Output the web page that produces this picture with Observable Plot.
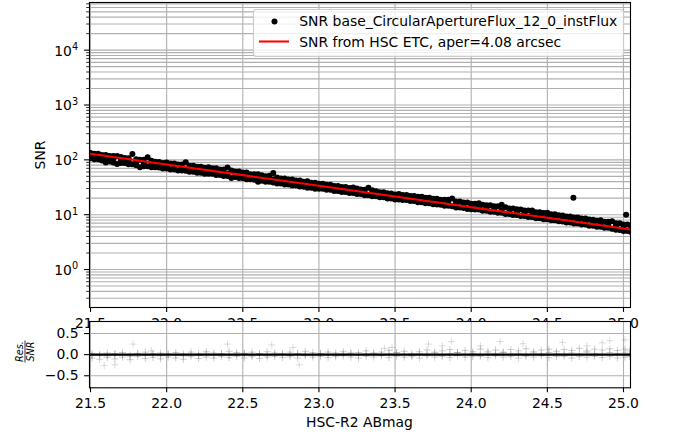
<!DOCTYPE html>
<html><head><meta charset="utf-8">
<script src="https://cdn.jsdelivr.net/npm/d3@7"></script>
<script src="https://cdn.jsdelivr.net/npm/@observablehq/plot@0.6"></script>
<style>
html,body{margin:0;padding:0;background:#fff;}
#chart{position:relative;width:700px;height:442px;overflow:hidden;font-family:"DejaVu Sans",sans-serif;}
#chart svg{position:absolute;left:0;}
</style></head><body><div id="chart"></div>
<script>
// ---------- data ----------
const xTicks = [21.5, 22.0, 22.5, 23.0, 23.5, 24.0, 24.5, 25.0];
const yMajor = [1, 10, 100, 1000, 10000];
const yMinor = [0.3,0.4,0.5,0.6,0.7,0.8,0.9, 2,3,4,5,6,7,8,9, 20,30,40,50,60,70,80,90,
  200,300,400,500,600,700,800,900, 2000,3000,4000,5000,6000,7000,8000,9000,
  20000,30000,40000,50000,60000,70000];
const resTicks = [-0.5, 0.0, 0.5];

// measured SNR band (upper and lower edge of the dense point cloud)
const bandMag = [
 21.500,21.525,21.550,21.575, 21.600,21.625,21.650,21.675, 21.700,21.725,21.750,21.775, 21.800,21.825,21.850,21.875,
 21.900,21.925,21.950,21.975, 22.000,22.025,22.050,22.075, 22.100,22.125,22.150,22.175, 22.200,22.225,22.250,22.275,
 22.300,22.325,22.350,22.375, 22.400,22.425,22.450,22.475, 22.500,22.525,22.550,22.575, 22.600,22.625,22.650,22.675,
 22.700,22.725,22.750,22.775, 22.800,22.825,22.850,22.875, 22.900,22.925,22.950,22.975, 23.000,23.025,23.050,23.075,
 23.100,23.125,23.150,23.175, 23.200,23.225,23.250,23.275, 23.300,23.325,23.350,23.375, 23.400,23.425,23.450,23.475,
 23.500,23.525,23.550,23.575, 23.600,23.625,23.650,23.675, 23.700,23.725,23.750,23.775, 23.800,23.825,23.850,23.875,
 23.900,23.925,23.950,23.975, 24.000,24.025,24.050,24.075, 24.100,24.125,24.150,24.175, 24.200,24.225,24.250,24.275,
 24.300,24.325,24.350,24.375, 24.400,24.425,24.450,24.475, 24.500,24.525,24.550,24.575, 24.600,24.625,24.650,24.675,
 24.700,24.725,24.750,24.775, 24.800,24.825,24.850,24.875, 24.900,24.925,24.950,24.975, 25.000,25.025,25.050];
const bandUpper = [
 134,128.5,128.5,122.9, 122.9,117.6,117.4,117.4, 112.3,107.5,107.4,128, 102.7,100.4,100.3,111.3,
 96.0,91.9,91.8,87.9, 89.7,85.8,85.7,82.1, 81.9,90.8,78.3,78.2, 75.0,74.9,71.7,73.1,
 70.0,69.9,66.9,66.9, 72.6,63.9,61.2,61.2, 58.5,58.5,54.8,54.8, 54.7,52.3,50.2,51.2,
 57.8,47.8,45.8,45.7, 43.8,43.8,41.9,41.9, 40.0,40.9,38.3,38.2, 36.7,36.7,35.0,35.0,
 33.5,33.4,32.1,32.0, 30.7,31.3,30.0,28.7, 28.6,31.0,27.9,26.7, 25.6,25.6,24.5,24.4,
 23.4,23.8,22.9,22.8, 21.9,21.9,21.3,21.3, 20.4,20.4,19.5,19.5, 18.7,18.7,18.7,19.8,
 17.4,17.4,16.7,16.7, 15.9,15.9,16.2,15.2, 14.9,14.9,14.2,14.2, 15.1,13.6,13.0,13.0,
 12.5,12.4,11.9,11.9, 11.9,11.1,11.1,10.7, 10.9,10.2,10.2,9.74, 9.71,9.31,9.29,8.90,
 8.88,8.51,8.49,8.13, 8.12,7.78,7.93,7.44, 7.43,7.57,6.96,6.95, 6.65,6.64,6.36];
const bandLower = [
 106.6,102.0,102.0,97.5, 89.6,93.3,89.4,83.9, 87.2,87.2,83.4,83.4, 79.8,73.3,76.3,76.3,
 73.0,72.9,72.8,69.8, 69.6,66.7,66.6,63.8, 63.6,63.5,60.8,60.8, 58.2,58.2,55.7,55.6,
 55.5,53.2,53.0,50.8, 50.7,46.6,48.5,46.5, 46.4,44.4,44.4,43.4, 39.9,41.5,39.8,39.7,
 38.8,37.1,37.1,35.5, 35.5,34.0,33.9,32.5, 32.4,31.1,31.0,29.7, 29.7,29.7,28.4,28.4,
 27.1,27.1,26.0,25.9, 24.8,24.8,23.8,23.8, 22.6,22.6,21.7,21.6, 20.7,20.7,19.8,19.8,
 18.9,18.9,18.5,18.5, 17.7,17.7,16.9,16.9, 16.2,16.2,15.5,15.4, 15.2,14.5,14.5,14.2,
 13.5,13.5,13.2,12.7, 12.6,12.4,12.4,11.8, 11.8,11.3,11.3,10.8, 10.8,10.3,10.3,9.88,
 9.88,9.46,9.45,9.04, 9.03,8.65,8.64,8.27, 8.26,7.91,7.90,7.56, 7.55,7.22,7.22,6.91,
 6.90,6.61,6.60,6.31, 6.31,6.04,6.04,5.77, 5.77,5.52,5.29,5.28, 5.06,5.05,4.83];
// middle of the point cloud
const midMag = [
 21.50,21.55,21.60,21.65,21.70,21.75,21.80,21.85,21.90,21.95,
 22.00,22.05,22.10,22.15,22.20,22.25,22.30,22.35,22.40,22.45,
 22.50,22.55,22.60,22.65,22.70,22.75,22.80,22.85,22.90,22.95,
 23.00,23.05,23.10,23.15,23.20,23.25,23.30,23.35,23.40,23.45,
 23.50,23.55,23.60,23.65,23.70,23.75,23.80,23.85,23.90,23.95,
 24.00,24.05,24.10,24.15,24.20,24.25,24.30,24.35,24.40,24.45,
 24.50,24.55,24.60,24.65,24.70,24.75,24.80,24.85,24.90,24.95,
 25.00,25.05];
const bandMid = [
 118.4,113.2,108.3,103.5,99.0,94.7,90.5,86.6,82.8,79.2,
 75.7,72.4,69.2,66.2,63.3,60.6,60.5,57.8,55.3,52.9,
 52.7,50.4,48.2,46.1,44.0,42.1,40.3,38.5,36.8,35.2,
 33.7,32.2,30.8,29.5,28.2,27.0,25.7,24.6,23.5,22.5,
 21.5,20.6,19.7,18.8,18.8,17.9,17.2,16.5,15.6,15.0,
 14.35,13.73,13.12,12.55,11.99,11.47,10.97,10.49,10.03,9.60,
 9.18,8.77,8.39,8.02,7.67,7.33,7.01,6.71,6.41,6.13,
 5.86,5.60];
const outMag = [24.671, 25.017];
const outSnr = [20.3, 9.96];

// HSC ETC prediction
const etcMag = [21.5, 22.0, 22.5, 23.0, 23.5, 24.0, 24.5, 25.0, 25.05];
const etcSnr = [128.8, 82.3, 52.6, 33.6, 21.5, 13.7, 8.77, 5.60, 5.36];

// residuals
const resMag = [
 21.51,21.56,21.61,21.66,21.71,21.76,21.81,21.86,21.91,21.96,
 22.01,22.06,22.11,22.16,22.21,22.26,22.31,22.36,22.41,22.46,
 22.51,22.56,22.61,22.66,22.71,22.76,22.81,22.86,22.91,22.96,
 23.01,23.06,23.11,23.16,23.21,23.26,23.31,23.36,23.41,23.46,
 23.51,23.56,23.61,23.66,23.71,23.76,23.81,23.86,23.91,23.96,
 24.01,24.06,24.11,24.16,24.21,24.26,24.31,24.36,24.41,24.46,
 24.51,24.56,24.61,24.66,24.71,24.76,24.81,24.86,24.91,24.96,
 25.01,25.04];
const resHi = [
 0.03,-0.02,0.04,0.01,0.05,-0.01,0.03,0.06,0.02,0.04,
 0.00,0.05,0.02,0.06,0.03,0.07,0.04,0.02,0.08,0.05,
 0.03,0.06,0.02,0.07,0.04,0.01,0.06,0.03,0.08,0.05,
 0.02,0.06,0.04,0.07,0.03,0.05,0.09,0.04,0.06,0.10,
 0.05,0.08,0.03,0.07,0.11,0.06,0.09,0.12,0.05,0.10,
 0.07,0.13,0.08,0.11,0.06,0.12,0.09,0.14,0.07,0.11,
 0.13,0.08,0.12,0.10,0.15,0.09,0.13,0.11,0.14,0.10,
 0.13,0.09];
const resLo = [
 -0.08,-0.11,-0.07,-0.10,-0.06,-0.12,-0.05,-0.09,-0.07,-0.10,
 -0.06,-0.08,-0.11,-0.05,-0.09,-0.06,-0.08,-0.05,-0.07,-0.04,
 -0.08,-0.05,-0.09,-0.06,-0.04,-0.07,-0.05,-0.08,-0.03,-0.06,
 -0.04,-0.07,-0.05,-0.03,-0.06,-0.08,-0.04,-0.06,-0.03,-0.07,
 -0.04,-0.06,-0.05,-0.08,-0.03,-0.06,-0.04,-0.07,-0.03,-0.06,
 -0.05,-0.04,-0.07,-0.03,-0.06,-0.05,-0.08,-0.04,-0.06,-0.03,
 -0.07,-0.05,-0.04,-0.08,-0.05,-0.06,-0.04,-0.07,-0.05,-0.08,
 -0.06,-0.04];
const resMid = [
 -0.02,0.01,-0.03,0.02,-0.01,-0.04,0.02,-0.02,0.01,-0.03,
 0.02,-0.01,-0.03,0.01,-0.02,0.03,-0.01,0.02,-0.02,0.01,
 0.03,-0.01,0.02,-0.02,0.01,0.03,-0.01,0.02,0.00,-0.02,
 0.03,0.01,-0.01,0.02,0.04,-0.01,0.02,0.03,-0.01,0.02,
 0.04,0.01,-0.02,0.03,0.01,0.04,-0.01,0.02,0.05,0.01,
 0.03,-0.01,0.04,0.02,0.05,0.01,0.03,-0.01,0.04,0.02,
 0.05,0.03,0.01,0.04,0.02,0.06,0.03,0.01,0.05,0.03,
 0.04,0.02];
const resOutMag = [21.59,21.66,21.78,21.90,22.40,22.69,22.83,22.87,23.43,23.48,23.72,23.81,23.87,24.06,24.19,24.34,24.60,24.76,24.86,24.91,25.01];
const resOutVal = [-0.26,-0.24,0.25,0.09,0.25,0.23,0.17,-0.24,0.15,0.17,0.25,0.21,0.31,0.21,0.31,0.26,0.29,0.21,0.28,0.33,0.35];
const zeroLine = [0];

const legendLabels = ["SNR base_CircularApertureFlux_12_0_instFlux", "SNR from HSC ETC, aper=4.08 arcsec"];

// ---------- drawing ----------
const FONT = "DejaVu Sans";
const FS = 13.9;
const xDomain = [21.4934, 25.046];
const grid = {stroke: "#b0b0b0", strokeOpacity: 1, strokeWidth: 1.11};
const dotStyle = {r: 3, fill: "black", stroke: "none", clip: true};
const chart = document.getElementById("chart");

const svgTop = Plot.plot({
  width: 700, height: 330,
  marginLeft: 89, marginRight: 70, marginTop: 2, marginBottom: 23,
  style: {fontFamily: FONT, fontSize: FS + "px", color: "black", background: "white"},
  x: {domain: xDomain},
  y: {type: "log", domain: [0.203, 74000]},
  marks: [
    Plot.gridX(xTicks, grid),
    Plot.gridY(yMajor.concat(yMinor), grid),
    Plot.dot(bandMag, {x: bandMag, y: bandUpper, ...dotStyle}),
    Plot.dot(bandMag, {x: bandMag, y: bandLower, ...dotStyle}),
    Plot.dot(midMag, {x: midMag, y: bandMid, ...dotStyle}),
    Plot.dot(outMag, {x: outMag, y: outSnr, ...dotStyle}),
    Plot.line(etcMag, {x: etcMag, y: etcSnr, stroke: "red", strokeWidth: 2.08, clip: true}),
    Plot.frame({stroke: "black", strokeWidth: 1.11}),
    Plot.axisX(xTicks, {tickSize: 4.9, tickPadding: 5.5, strokeWidth: 1.11, fontSize: FS, tickFormat: d3.format(".1f"), label: null}),
    Plot.axisY(yMajor, {tickSize: 4.9, tickPadding: 6.5, strokeWidth: 1.11, fontSize: FS, tickFormat: d => String(Math.round(Math.log10(d))), label: null}),
    Plot.axisY(yMinor, {tickSize: 2.8, tickPadding: 0, strokeWidth: 0.83, fontSize: FS, tickFormat: () => "", label: null})
  ]
});
svgTop.style.top = "0px";
chart.appendChild(svgTop);

// superscript exponents on the log axis
d3.select(svgTop).selectAll('g[aria-label="y-axis tick label"] text').each(function () {
  const e = this.textContent;
  if (!e) return;
  const t = d3.select(this);
  t.text(null);
  t.append("tspan").attr("dy", "1").text("10");
  t.append("tspan").attr("dy", "-5.5").attr("font-size", "9.7px").text(e);
});

const gt = d3.select(svgTop).append("g").attr("font-family", FONT).attr("font-size", FS + "px");
gt.append("text").attr("transform", "translate(44.5,155) rotate(-90)")
  .attr("text-anchor", "middle").attr("fill", "black").text("SNR");
// legend
const lg = gt.append("g").attr("text-anchor", "start");
lg.append("rect").attr("x", 253.5).attr("y", 9.5).attr("width", 370).attr("height", 47).attr("rx", 3)
  .attr("fill", "white").attr("fill-opacity", 0.8).attr("stroke", "#cccccc").attr("stroke-width", 1.11);
lg.append("circle").attr("cx", 274.5).attr("cy", 21.5).attr("r", 3).attr("fill", "black");
lg.append("line").attr("x1", 259).attr("x2", 289).attr("y1", 41.5).attr("y2", 41.5)
  .attr("stroke", "red").attr("stroke-width", 2.08);
lg.append("text").attr("x", 299.3).attr("y", 26.3).attr("text-anchor", "start").attr("fill", "black").text(legendLabels[0]);
lg.append("text").attr("x", 299.3).attr("y", 46.6).attr("text-anchor", "start").attr("fill", "black").text(legendLabels[1]);

const cross = {symbol: "plus", r: 2.4, stroke: "#707070", strokeOpacity: 0.42, strokeWidth: 0.8, fill: "none", clip: true};
const crossFaint = {...cross, strokeOpacity: 0.3};
const svgBot = Plot.plot({
  width: 700, height: 142,
  marginLeft: 89, marginRight: 70, marginTop: 21, marginBottom: 54.7,
  style: {fontFamily: FONT, fontSize: FS + "px", color: "black", background: "transparent"},
  x: {domain: xDomain},
  y: {domain: [-0.785, 0.785]},
  marks: [
    Plot.frame({fill: "white", stroke: "none"}),
    Plot.gridX(xTicks, grid),
    Plot.gridY(resTicks, grid),
    Plot.dot(resMag, {x: resMag, y: resHi, ...cross}),
    Plot.dot(resMag, {x: resMag, y: resLo, ...cross}),
    Plot.dot(resMag, {x: resMag, y: resMid, ...cross}),
    Plot.dot(resOutMag, {x: resOutMag, y: resOutVal, ...crossFaint}),
    Plot.ruleY(zeroLine, {stroke: "black", strokeWidth: 2.3}),
    Plot.frame({stroke: "black", strokeWidth: 1.11}),
    Plot.axisX(xTicks, {tickSize: 4.9, tickPadding: 5.5, strokeWidth: 1.11, fontSize: FS, tickFormat: d3.format(".1f"), label: null}),
    Plot.axisY(resTicks, {tickSize: 4.9, tickPadding: 6, strokeWidth: 1.11, fontSize: FS, tickFormat: d3.format(".1f"), label: null})
  ]
});
svgBot.style.top = "300px";
chart.appendChild(svgBot);

const gb = d3.select(svgBot).append("g").attr("font-family", FONT).attr("fill", "black");
gb.append("text").attr("x", 359.5).attr("y", 126.5).attr("text-anchor", "middle")
  .attr("font-size", FS + "px").text("HSC-R2 ABmag");
const fr = gb.append("g").attr("transform", "translate(25,51.5) rotate(-90)");
fr.append("text").attr("y", -2).attr("text-anchor", "middle").attr("font-size", "9.7px")
  .attr("font-style", "italic").text("Res.");
fr.append("line").attr("x1", -11).attr("x2", 11).attr("y1", 0).attr("y2", 0)
  .attr("stroke", "black").attr("stroke-width", 0.8);
fr.append("text").attr("y", 9.1).attr("text-anchor", "middle").attr("font-size", "9.7px")
  .attr("font-style", "italic").text("SNR");
</script></body></html>
